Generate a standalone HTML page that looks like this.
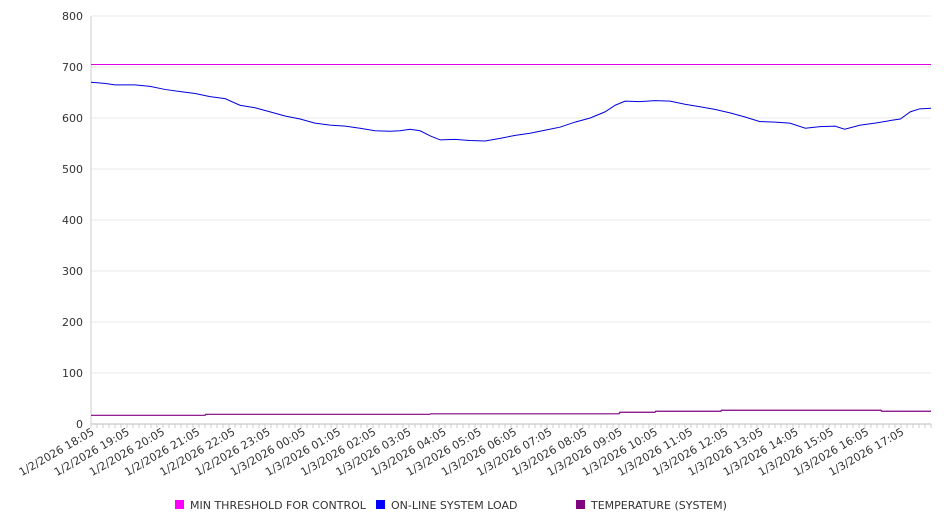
<!DOCTYPE html>
<html><head><meta charset="utf-8"><style>
body{margin:0;background:#fff;font-family:"DejaVu Sans","Liberation Sans",sans-serif;}
svg text{font-family:"DejaVu Sans","Liberation Sans",sans-serif;fill:#333;}
</style></head><body>
<svg id="c" width="946" height="526"></svg>
<script>
const yTicks=[0,100,200,300,400,500,600,700,800];
const xLabels=["1/2/2026 18:05","1/2/2026 19:05","1/2/2026 20:05","1/2/2026 21:05","1/2/2026 22:05","1/2/2026 23:05","1/3/2026 00:05","1/3/2026 01:05","1/3/2026 02:05","1/3/2026 03:05","1/3/2026 04:05","1/3/2026 05:05","1/3/2026 06:05","1/3/2026 07:05","1/3/2026 08:05","1/3/2026 09:05","1/3/2026 10:05","1/3/2026 11:05","1/3/2026 12:05","1/3/2026 13:05","1/3/2026 14:05","1/3/2026 15:05","1/3/2026 16:05","1/3/2026 17:05"];
const threshold=705;
const loadHours=[0,0.39,0.68,1.24,1.68,2.10,2.52,2.96,3.38,3.81,4.23,4.66,5.09,5.51,5.94,6.36,6.79,7.22,7.64,8.07,8.49,8.78,9.06,9.35,9.63,9.92,10.34,10.76,11.19,11.62,12.05,12.47,12.89,13.32,13.75,14.18,14.60,14.89,15.17,15.59,16.02,16.45,16.87,17.30,17.72,18.15,18.58,19.0,19.43,19.85,20.29,20.71,21.13,21.41,21.85,22.27,22.70,22.99,23.27,23.54,23.86];
const loadValues=[670,668,665,665,662,656,652,648,642,638,625,620,612,604,598,590,586,584,580,575,574,575,578,575,565,557,558,556,555,560,566,570,576,582,592,600,612,625,633,632,634,633,627,622,617,610,602,593,592,590,580,583,584,578,586,590,595,598,612,618,619];
const tempHours=[0,3.24,3.26,9.63,9.65,15.0,15.02,16.02,16.04,17.89,17.91,22.44,22.46,23.86];
const tempValues=[17,17,19,19,20,20,23,23,25,25,27,27,25,25];
const L=91,R=931,T=16,B=424,spanH=23.86;
const sx=h=>L+h*(R-L)/spanH, sy=v=>B-v*(B-T)/800;
const svg=document.getElementById('c');const NS='http://www.w3.org/2000/svg';
function mk(t,a,p){const e=document.createElementNS(NS,t);for(const k in a)e.setAttribute(k,a[k]);(p||svg).appendChild(e);return e;}
yTicks.forEach(v=>{
 const g=mk('line',{x1:L,x2:R,y1:sy(v),y2:sy(v),stroke:v===0?'#bbb':'#e8e8e8','stroke-width':1});
 
 
 const t=mk('text',{x:83,y:sy(v)+4,'text-anchor':'end','font-size':11});t.textContent=v;
 
 
});
const ax=mk('line',{x1:L,x2:L,y1:T,y2:B,stroke:'#ccc'});


for(let i=0;i<=140;i++){const x=L+i*(R-L)/140;const tk=mk('line',{x1:x,x2:x,y1:B,y2:B+4,stroke:'#ccc'});
 
 }
xLabels.forEach((s,i)=>{const x=sx(i)+4,y=B+10;
 const t=mk('text',{x:x,y:y,'text-anchor':'end','font-size':11,transform:`rotate(-30 ${x} ${y})`});t.textContent=s;
 
 
});
const th=mk('line',{x1:L,x2:R,y1:sy(threshold),y2:sy(threshold),stroke:'#e000e0','stroke-width':1});


const lp=mk('polyline',{points:loadHours.map((h,i)=>sx(h)+','+sy(loadValues[i])).join(' '),fill:'none',stroke:'#0000dd','stroke-width':1});


const tp=mk('polyline',{points:tempHours.map((h,i)=>sx(h)+','+sy(tempValues[i])).join(' '),fill:'none',stroke:'#800080','stroke-width':1.2});


[[175,'#ff00ff','MIN THRESHOLD FOR CONTROL','legend-min-threshold'],[376,'#0000ff','ON-LINE SYSTEM LOAD','legend-system-load'],[576,'#800080','TEMPERATURE (SYSTEM)','legend-temperature']].forEach(d=>{
 const g=mk('g',{});
 
 
 mk('rect',{x:d[0],y:500,width:9,height:9,fill:d[1]},g);
 const t=mk('text',{x:d[0]+15,y:509,'font-size':11},g);t.textContent=d[2];
});
</script>
</body></html>
